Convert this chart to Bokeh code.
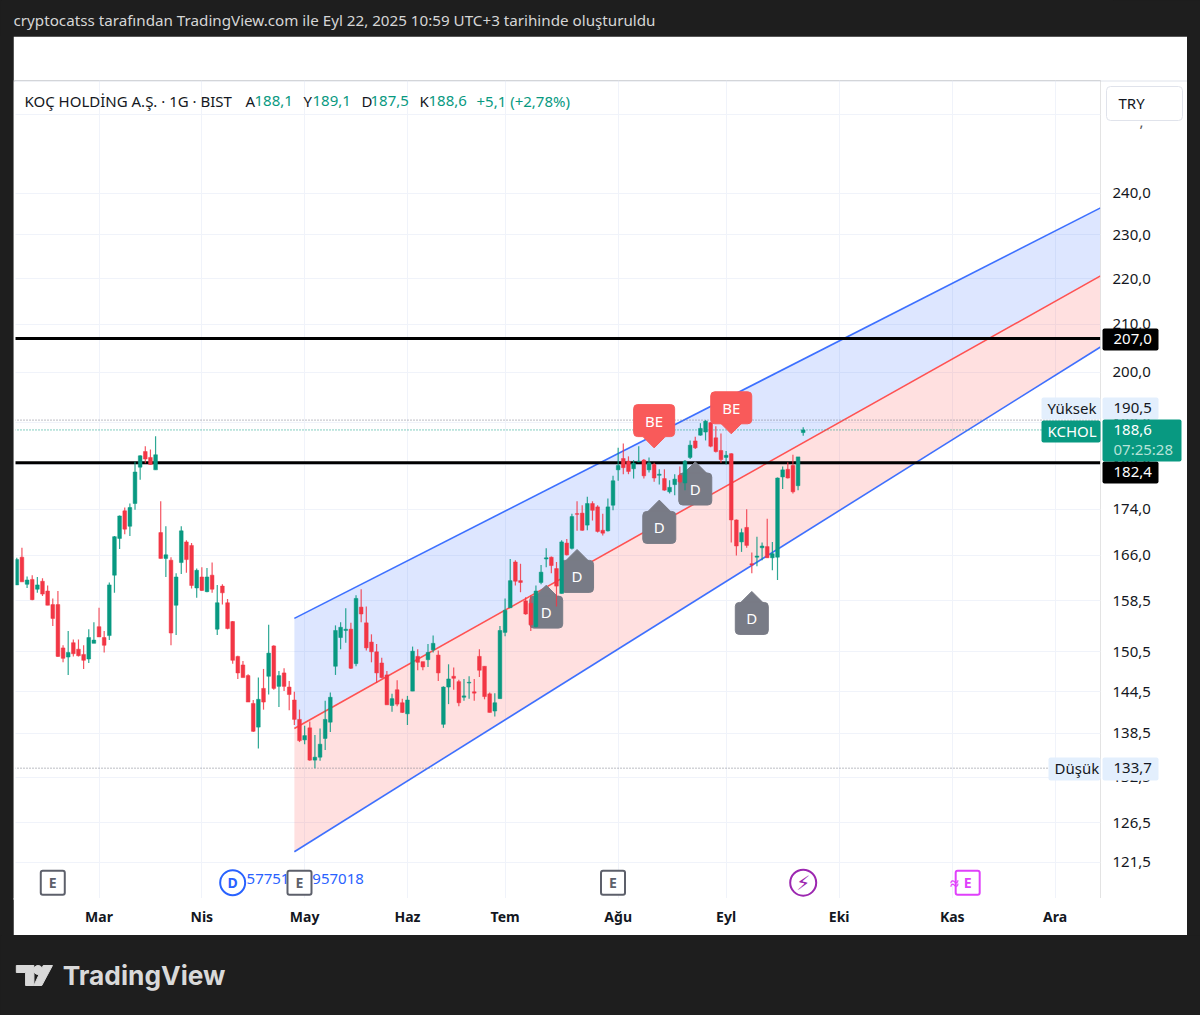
from math import pi
from bokeh.plotting import figure
from bokeh.layouts import column
from bokeh.models import FixedTicker, ColumnDataSource
from bokeh.core.properties import value
from bokeh.embed import file_html
from bokeh.resources import INLINE

FONT = "Noto Sans"
DARK = "#1e1e1e"
GREEN = "#089981"
RED = "#f23645"

open_ = [161.1,165.7,161.2,162.0,160.4,161.7,160.1,157.9,157.9,151.1,
149.7,151.9,150.9,150.1,149.4,151.8,154.4,152.7,153.0,162.7,
168.9,173.7,171.0,175.0,181.6,184.5,183.4,181.1,169.9,165.5,
165.2,157.8,164.8,168.3,167.7,160.6,162.4,160.0,162.7,154.0,
160.9,158.2,155.2,149.8,148.5,146.9,142.8,139.4,145.0,146.8,
151.4,145.3,147.3,145.2,143.3,140.5,137.6,139.3,134.8,135.2,
137.8,140.1,148.3,152.7,153.8,154.0,148.7,157.5,155.0,152.0,
150.5,148.8,147.0,142.5,144.8,142.9,141.3,144.6,149.8,149.0,
149.3,150.8,150.0,139.8,145.2,146.8,146.0,143.7,145.8,144.5,
149.8,148.3,144.2,141.7,143.5,153.5,157.4,164.9,161.8,158.5,
158.1,154.4,161.5,165.4,165.7,163.8,159.7,168.1,167.2,173.2,
173.3,171.2,175.0,174.4,170.3,170.2,174.7,181.1,183.2,182.7,
181.3,182.6,182.9,181.1,182.1,180.1,179.5,177.1,178.4,180.1,
178.7,183.4,186.5,187.6,188.2,190.0,187.1,184.7,183.4,184.1,
172.1,168.3,170.8,164.6,165.7,167.3,167.5,165.6,165.7,179.8,
181.2,181.9,178.2,188.1]
high = [165.6,167.3,162.5,162.7,162.4,162.2,161.0,158.9,160.1,151.5,
153.7,152.4,152.4,151.5,154.0,155.1,157.4,153.7,161.5,169.3,
172.9,174.3,175.0,182.6,183.8,185.5,184.9,187.4,175.4,171.0,
165.7,163.0,171.0,168.6,168.1,163.8,164.0,163.9,164.8,161.1,
161.2,158.8,155.3,149.9,149.1,147.1,143.3,146.6,147.9,154.7,
151.5,147.6,148.0,146.1,144.5,141.9,139.6,140.2,138.3,139.2,
143.2,144.4,154.6,155.1,157.3,155.0,159.4,160.4,157.6,153.2,
151.7,149.6,147.6,144.2,146.2,143.5,143.9,151.3,150.9,149.0,
151.7,153.0,150.7,145.3,148.6,148.1,146.3,146.4,146.8,146.4,
150.9,148.3,144.4,144.3,154.5,158.9,165.4,165.2,164.6,159.1,
159.4,161.0,164.4,167.2,165.8,164.9,168.6,168.8,173.2,175.4,
174.7,176.2,175.4,174.7,173.2,175.9,180.0,185.2,186.0,183.6,
182.9,185.5,183.1,183.4,182.4,181.2,181.2,179.2,180.3,181.7,
182.9,186.6,187.3,189.9,190.5,190.2,189.3,187.9,184.6,184.2,
172.2,170.6,174.0,166.5,169.2,168.2,172.3,168.3,179.7,181.7,
182.5,183.9,183.4,189.1]
low = [161.1,161.6,160.6,158.6,159.8,159.3,157.8,154.5,149.7,148.9,
147.0,149.8,149.8,147.9,148.8,151.8,152.8,150.4,152.3,159.8,
167.1,169.6,169.3,173.9,179.3,182.3,182.0,181.1,165.5,162.4,
151.5,153.1,162.9,163.1,160.5,159.0,160.1,159.9,159.8,153.1,
157.9,154.0,148.7,146.4,146.6,143.0,138.7,136.4,141.9,144.1,
144.8,142.3,144.6,141.8,139.7,137.3,137.0,134.7,133.7,134.7,
136.2,138.7,147.0,150.9,151.9,147.9,148.3,155.1,150.7,148.9,
145.8,146.5,142.6,141.6,142.4,141.4,139.7,144.6,147.7,147.7,
148.2,150.4,146.1,139.3,142.7,144.8,142.4,143.2,143.5,143.2,
146.7,143.4,141.5,140.9,143.5,152.9,157.4,161.0,159.9,156.3,
153.7,154.3,161.2,164.0,163.0,157.6,159.7,166.0,167.0,170.2,
170.2,170.3,172.0,169.9,169.4,170.1,173.8,179.1,180.3,180.3,
179.5,182.5,179.5,180.6,178.9,178.4,177.3,176.8,176.5,178.6,
177.4,183.1,185.0,187.5,186.6,185.3,184.3,182.4,182.1,168.2,
166.0,166.6,167.3,163.0,164.2,165.2,165.6,163.5,161.9,177.6,
179.5,176.8,177.4,187.5]
close = [165.3,161.6,161.9,158.7,161.1,159.6,157.8,155.7,149.8,149.5,
150.4,150.2,149.9,149.2,152.7,152.3,152.8,151.5,161.1,169.2,
172.8,170.5,174.3,180.7,183.7,183.1,182.1,183.9,165.5,166.1,
153.4,162.4,170.2,165.3,161.0,163.5,160.2,162.4,160.4,158.2,
159.8,154.1,149.2,147.3,146.6,143.0,138.8,143.4,143.0,150.3,
145.0,146.9,145.3,144.1,140.5,137.5,138.2,134.8,135.2,137.0,
140.5,143.7,153.8,154.3,154.0,148.0,158.9,156.4,151.1,150.5,
147.3,146.6,142.6,143.5,142.7,141.5,143.3,150.6,148.9,148.2,
150.4,151.8,147.3,145.2,146.4,146.5,142.9,143.9,145.9,144.3,
147.7,143.8,141.5,142.9,153.8,157.0,161.8,161.7,161.5,156.4,
154.7,160.1,163.2,165.6,164.3,160.9,168.3,166.1,172.7,173.1,
170.3,175.0,173.8,170.1,169.8,174.4,179.1,181.9,181.5,180.8,
182.3,182.7,180.0,182.4,179.6,180.3,177.4,177.9,179.4,178.9,
182.7,185.7,185.2,188.9,190.3,185.5,184.5,183.0,183.8,172.1,
167.6,169.9,167.7,164.4,165.9,167.6,165.6,166.3,179.6,181.1,
179.6,177.1,183.5,188.6]

month_bars = [16, 36, 56, 76, 95, 117, 138, 160, 182, 202]
month_labels = ["Mar", "Nis", "May", "Haz", "Tem", "Ağu", "Eyl", "Eki", "Kas", "Ara"]
price_ticks = [260, 240, 230, 220, 210, 200, 190, 182, 174, 166, 158.5, 150.5, 144.5, 138.5, 132.5, 126.5, 121.5]
price_labels = ["260,0", "240,0", "230,0", "220,0", "210,0", "200,0", "190,0", "182,0", "174,0", "166,0",
                "158,5", "150,5", "144,5", "138,5", "132,5", "126,5", "121,5"]

channel_x = [54, 210.84]
span_x = [-0.447, 210.84]
channel_upper = [155.7, 236.4]
channel_mid = [139.2, 220.6]
channel_lower = [122.8, 205.2]
level_prices = [207.0, 182.4]
high_price, low_price, last_price = 190.5, 133.7, 188.6

d_bars = [103, 109, 125, 132, 143]
d_center = [156.7, 162.5, 170.8, 177.6, 155.7]
d_top = [159.2, 165.1, 173.6, 180.5, 158.2]
be_bars = [124, 139]
be_center = [190.4, 192.9]
be_bottom = [187.2, 189.9]

event_price = 119.0
e_bars = [7, 55, 116]
div_bar, bolt_bar, pink_bar = 42, 153, 185
div_text = [("57751", 44.7), ("957018", 57.5)]
div_text_price = 119.5

p = figure(width=1174, height=899, output_backend="svg", toolbar_location=None,
           x_range=(-0.447, 210.84), y_range=(117.1, 269.1), y_axis_type="log",
           y_axis_location="right", min_border_left=1, min_border_right=87,
           min_border_top=44, min_border_bottom=37, margin=(0, 13, 0, 13),
           background_fill_color="white", border_fill_color="white", outline_line_color=None)

p.xaxis.ticker = FixedTicker(ticks=month_bars)
p.xaxis.major_label_overrides = dict(zip(month_bars, month_labels))
p.yaxis.ticker = FixedTicker(ticks=price_ticks)
p.yaxis.major_label_overrides = dict(zip(price_ticks, price_labels))
for ax in (p.xaxis[0], p.yaxis[0]):
    ax.axis_line_color = None
    ax.major_tick_line_color = None
    ax.minor_tick_line_color = None
    ax.major_label_text_color = "#131722"
    ax.major_label_text_font = FONT
    ax.major_label_text_font_size = "15px"
p.yaxis.major_label_standoff = 6
p.xaxis.major_label_standoff = 2
p.xaxis.major_label_text_font_style = "bold"
p.xaxis.major_label_text_font_size = "14px"
p.xgrid.ticker = FixedTicker(ticks=month_bars)
p.ygrid.ticker = FixedTicker(ticks=price_ticks)
p.xgrid.grid_line_color = "#f0f3fa"
p.ygrid.grid_line_color = "#f0f3fa"

# channel
p.varea(x=channel_x, y1=channel_mid, y2=channel_upper, fill_color="#2962ff", fill_alpha=0.16)
p.varea(x=channel_x, y1=channel_lower, y2=channel_mid, fill_color="#ff5252", fill_alpha=0.18)
p.line(channel_x, channel_upper, line_color="#2962ff", line_width=1.6, line_alpha=0.9)
p.line(channel_x, channel_lower, line_color="#2962ff", line_width=1.6, line_alpha=0.9)
p.line(channel_x, channel_mid, line_color="#ff5252", line_width=1.6)

# price lines
for price in (high_price, low_price):
    p.line(span_x, [price, price], line_color="#787b86", line_width=1, line_dash="1 2")
p.line(span_x, [last_price, last_price], line_color=GREEN, line_width=1, line_dash="1 2")
for price in level_prices:
    p.line(span_x, [price, price], line_color="#000000", line_width=3)

# dividend markers (below candles)
GRAY = "#787b86"
p.scatter(d_bars, d_top, marker="square", size=16, angle=pi / 4, color=GRAY)
p.rect(d_bars, d_center, width=33, height=32, width_units="screen", height_units="screen",
       color=GRAY, border_radius=4)
p.text(d_bars, d_center, text=["D"] * len(d_bars), text_color="white", text_align="center",
       text_baseline="middle", text_font=value(FONT), text_font_size="15px")

# candles
bars = list(range(len(open_)))
colors = [GREEN if c >= o else RED for o, c in zip(open_, close)]
src = ColumnDataSource(dict(x=bars, o=open_, h=high, l=low, c=close, col=colors))
p.segment("x", "h", "x", "l", source=src, line_color="col", line_width=1.2, line_alpha=0.85)
p.vbar("x", 0.72, "o", "c", source=src, fill_color="col", line_color="col", line_width=0.5)

# "BE" labels
BE = "#f95a5a"
p.scatter(be_bars, be_bottom, marker="square", size=15, angle=pi / 4, color=BE)
p.rect(be_bars, be_center, width=41, height=32, width_units="screen", height_units="screen",
       color=BE, border_radius=4)
p.text(be_bars, be_center, text=["BE"] * len(be_bars), text_color="white", text_align="center",
       text_baseline="middle", text_font=value(FONT), text_font_size="15px")

# bottom events
for txt, b in div_text:
    p.text([b], [div_text_price], text=[txt], text_color="#2962ff", text_align="left",
           text_baseline="middle", text_font=value(FONT), text_font_size="15px")
p.rect(e_bars, [event_price] * 3, width=24, height=24, width_units="screen", height_units="screen",
       fill_color="white", line_color="#5d606b", line_width=2, border_radius=2)
p.text(e_bars, [event_price] * 3, text=["E"] * 3, text_color="#5d606b", text_align="center",
       text_baseline="middle", text_font=value(FONT), text_font_size="14px", text_font_style="bold")
p.scatter([div_bar], [event_price], marker="circle", size=25, fill_color="white",
          line_color="#2962ff", line_width=2)
p.text([div_bar], [event_price], text=["D"], text_color="#2962ff", text_align="center",
       text_baseline="middle", text_font=value(FONT), text_font_size="14px", text_font_style="bold")
p.scatter([bolt_bar], [event_price], marker="circle", size=26, fill_color="white",
          line_color="#9c27b0", line_width=2)
p.text([bolt_bar], [event_price], text=["⚡"], text_color="#9c27b0", text_align="center",
       text_baseline="middle", text_font=value("DejaVu Sans"), text_font_size="20px")
p.rect([pink_bar], [event_price], width=24, height=24, width_units="screen", height_units="screen",
       fill_color="white", line_color="#e040fb", line_width=2, border_radius=2)
p.text([pink_bar], [event_price], text=["E"], text_color="#e040fb", text_align="center",
       text_baseline="middle", text_font=value(FONT), text_font_size="14px", text_font_style="bold")
p.text([pink_bar - 2.6], [event_price], text=["≈"], text_color="#e040fb", text_align="center",
       text_baseline="middle", text_font=value(FONT), text_font_size="16px", text_font_style="bold")

# transparent layer for the scale tags, legend row and rule: window-pixel coordinates
layer = figure(width=1174, height=899, output_backend="svg", toolbar_location=None,
               x_range=(13, 1187), y_range=(935, 36), min_border=0, x_axis_type=None, y_axis_type=None,
               background_fill_alpha=0, border_fill_alpha=0, outline_line_color=None)
layer.grid.visible = False


def box(x0, x1, y0, y1, color, line=None, radius=0):
    layer.quad(left=[x0], right=[x1], top=[y0], bottom=[y1], fill_color=color,
               line_color=line, border_radius=radius)


def lab(px, py, text, color="#131722", size="15px"):
    layer.text([px], [py - 1], text=[text], text_color=color, text_font_size=size, text_align="left",
               text_baseline="middle", text_font=value(FONT))


# mask the pane edge lines on three sides
box(13, 15, 81, 899, "white")
box(1100, 1102, 81, 899, "white")
box(13, 1102, 897.5, 899.5, "white")

box(13, 1187, 80, 81, "#e0e3eb")
lab(24, 101, "KOÇ HOLDİNG A.Ş. · 1G · BIST")
for letter, num, xn in [("A", "188,1", 254), ("Y", "189,1", 312), ("D", "187,5", 370), ("K", "188,6", 428)]:
    lab(xn - 9, 101, letter)
    lab(xn, 101, num, GREEN)
lab(476, 101, "+5,1 (+2,78%)", GREEN)

box(1106, 1182, 86, 120, "white", "#e0e3eb", 4)
lab(1118, 103, "TRY")
lab(1139, 122, ",", "#555555")

box(1102, 1158, 328, 350, "#000000", None, 2)
lab(1113, 339, "207,0", "white")
box(1102, 1158, 461, 483, "#000000", None, 2)
lab(1113, 472, "182,4", "white")
box(1041, 1100, 397, 419, "#e3effd", None, 2)
lab(1047, 408, "Yüksek")
box(1102, 1158, 397, 419, "#e3effd", None, 2)
lab(1113, 408, "190,5")
box(1041, 1100, 420, 442, GREEN, None, 2)
lab(1047, 431, "KCHOL", "white")
box(1102, 1181, 419, 461, GREEN, None, 2)
lab(1113, 430, "188,6", "white")
lab(1113, 449, "07:25:28", "#b7e3d9")
box(1048, 1100, 757, 780, "#e3effd", None, 2)
lab(1054, 768, "Düşük")
box(1102, 1158, 757, 780, "#e3effd", None, 2)
lab(1113, 768, "133,7")

# header strip
header = figure(width=1200, height=36, output_backend="svg", toolbar_location=None,
                x_range=(0, 1200), y_range=(36, 0), min_border=0, x_axis_type=None, y_axis_type=None,
                background_fill_color=DARK, border_fill_color=DARK, outline_line_color=None)
header.grid.visible = False
header.text([13], [19.5], text=["cryptocatss tarafından TradingView.com ile Eyl 22, 2025 10:59 UTC+3 tarihinde oluşturuldu"],
            text_color="#d6d6d6", text_baseline="middle", text_font=value(FONT), text_font_size="15.2px")

# footer strip
logo_stem_x = [16, 35, 35, 26, 26, 16]
logo_stem_y = [30, 30, 50, 50, 37, 37]
logo_slash_x = [45, 55, 43.5, 35]
logo_slash_y = [30, 30, 50, 50]
footer = figure(width=1200, height=80, output_backend="svg", toolbar_location=None,
                x_range=(0, 1200), y_range=(80, 0), min_border=0, x_axis_type=None, y_axis_type=None,
                background_fill_color=DARK, border_fill_color=DARK, outline_line_color=None)
footer.grid.visible = False
footer.patch(logo_stem_x, logo_stem_y, color="#d9d9d9")
footer.patch(logo_slash_x, logo_slash_y, color="#d9d9d9")
footer.scatter([39.5], [34.5], marker="circle", size=9, color="#d9d9d9")
footer.text([66], [40], text=["TradingView"], text_color="#d9d9d9", text_baseline="middle",
            text_font=value("Inter"), text_font_size="26.3px", text_font_style="bold")

page = column(header, p, footer, spacing=0)
html = file_html([page, layer], INLINE)
css = ("html,body{margin:0;padding:0;background:%s;overflow:hidden}"
       "body>div:nth-of-type(2){display:block!important;position:absolute;left:13px;top:36px;width:1174px;height:899px}") % DARK
html = html.replace("<head>", "<head><style>%s</style>" % css, 1)
open("out.html", "w").write(html)
